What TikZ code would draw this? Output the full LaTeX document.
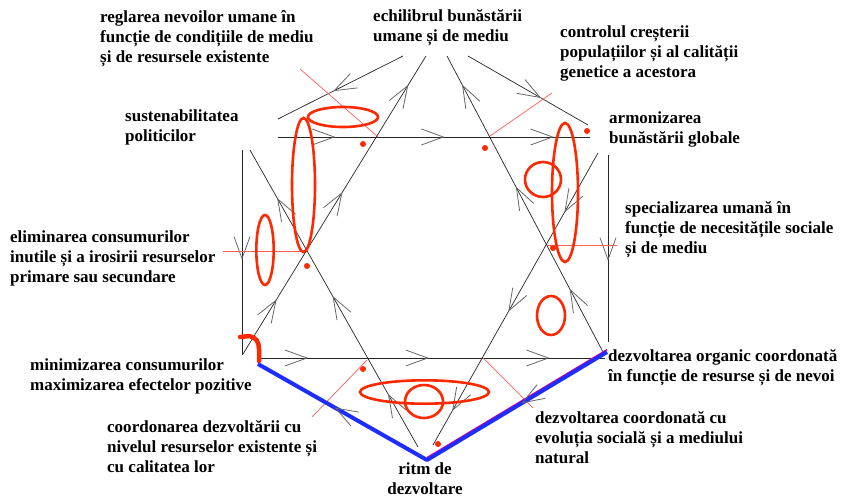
\documentclass[tikz,border=0pt]{standalone}
\usepackage{fontspec}
\setmainfont{Liberation Serif}
\usetikzlibrary{decorations.markings}

\definecolor{inkred}{RGB}{255,40,0}
\definecolor{thinred}{RGB}{255,95,95}
\definecolor{inkblue}{RGB}{30,45,255}

\begin{document}
\begin{tikzpicture}[x=1pt, y=-1pt,
    flow/.style={black!85, line width=0.7pt},
    tips/.style args={#1 step #2}{postaction={decorate, decoration={markings,
        mark=between positions #1 and 0.97 step #2 with {\draw[black!60, line width=0.8pt, line join=miter]
            (-22pt,8pt) -- (0pt,0pt) -- (-22pt,-8pt);}}}},
    lbl/.style={font=\bfseries\fontsize{17}{20}\selectfont, align=left, anchor=north west, inner sep=0pt},
    ring/.style={draw=inkred, line width=2.6pt},
    hint/.style={draw=thinred, line width=0.7pt},
    spot/.style={circle, fill=inkred, inner sep=0pt, minimum size=6pt}]
    \useasboundingbox (0,0) rectangle (845,497);
    \fill[white] (0,0) rectangle (845,497);

    % ==== POINTS ====
    \coordinate (upL) at (243,354);     \coordinate (upTopL) at (426,56);
    \coordinate (upTopR) at (447,56);   \coordinate (upR) at (603,352);
    \coordinate (dnL) at (250,150);     \coordinate (dnR) at (598,153);
    \coordinate (dnBotL) at (418,447);  \coordinate (dnBotR) at (433,445);
    \coordinate (topA) at (278,137);    \coordinate (topB) at (590,137);
    \coordinate (botA) at (260,358);    \coordinate (botB) at (605,358);
    \coordinate (leftA) at (242,150);   \coordinate (leftB) at (242,355);
    \coordinate (rightA) at (608,155);  \coordinate (rightB) at (608,342);
    \coordinate (feedL0) at (403,56);   \coordinate (feedL1) at (278,119);
    \coordinate (feedR0) at (468,56);   \coordinate (feedR1) at (588,125);
    \coordinate (bl) at (258,364);      \coordinate (bv) at (427,460);
    \coordinate (br) at (607,352);

    % ==== STAR OF FLOWS ====
    \draw[flow, tips={0.18 step 0.36}] (upL) -- (upTopL);
    \draw[flow, tips={0.21 step 0.345}] (upR) -- (upTopR);
    \draw[flow, tips={0.175 step 0.33}] (dnBotL) -- (dnL);
    \draw[flow, tips={0.2 step 0.34}] (dnR) -- (dnBotR);
    \draw[flow, tips={0.18 step 0.35}] (topA) -- (topB);
    \draw[flow, tips={0.136 step 0.35}] (botA) -- (botB);
    \draw[flow, tips={0.53 step 1}] (leftA) -- (leftB);
    \draw[flow, tips={0.56 step 1}] (rightA) -- (rightB);
    \draw[flow, tips={0.55 step 1}] (feedL0) -- (feedL1);
    \draw[flow, tips={0.6 step 1}] (feedR0) -- (feedR1);

    % ==== RED MARKS ====
    \draw[hint] (300,69) -- (378,137);
    \draw[hint] (490,136) -- (552,93);
    \draw[hint] (223,251) -- (307,251);
    \draw[hint] (547,245) -- (617,245);
    \draw[hint] (312,417) -- (367,360);
    \draw[hint] (483,358) -- (533,408);
    \draw[ring] (343,117) ellipse [x radius=35, y radius=10];
    \draw[ring] (303.5,185) ellipse [x radius=11.5, y radius=67];
    \draw[ring] (265,250) ellipse [x radius=8.7, y radius=35];
    \draw[ring] (565,192.5) ellipse [x radius=13, y radius=69.5];
    \draw[ring] (543,179.5) ellipse [x radius=18, y radius=17.5];
    \draw[ring] (551,315.5) ellipse [x radius=14, y radius=19.5];
    \draw[ring] (424.5,392) ellipse [x radius=64.5, y radius=11.7];
    \draw[ring] (424,401.5) ellipse [x radius=19, y radius=16.5];
    \foreach \p [count=\i] in {(363,144),(485,148),(587,131),(307,266),(553,248),(363,369),(438,444)}
        \node[spot] (spot\i) at \p {};
    \draw[inkred, line width=4.5pt, line cap=round, line join=round]
        (240,337) -- (249,336) .. controls (256,337) and (259,342) .. (259,349) -- (259,361);

    % ==== RHYTHM LINE ====
    \draw[magenta, line width=1.4pt] ([yshift=2.4pt]bv) -- ([yshift=2.4pt]br);
    \draw[inkblue, line width=4pt, line join=round] (bl) -- (bv) -- (br);
    \path[tips={0.54 step 1}] (bv) -- (bl);
    \path[tips={0.47 step 1}] (br) -- (bv);

    % ==== LABELS ====
    \node[lbl] (tReglare) at (100,10.5) {reglarea nevoilor umane în\\funcție de condițiile de mediu\\și de resursele existente};
    \node[lbl] (tEchilibru) at (373,9) {echilibrul bunăstării\\umane și de mediu};
    \node[lbl] (tControl) at (560,26) {controlul creșterii\\populațiilor și al calității\\genetice a acestora};
    \node[lbl] (tArmon) at (609,112) {armonizarea\\bunăstării globale};
    \node[lbl] (tSpecial) at (625,201) {specializarea umană în\\funcție de necesitățile sociale\\și de mediu};
    \node[lbl] (tSusten) at (125,110) {sustenabilitatea\\politicilor};
    \node[lbl] (tElimin) at (10,231) {eliminarea consumurilor\\inutile și a irosirii resurselor\\primare sau secundare};
    \node[lbl] (tMinim) at (30,359) {minimizarea consumurilor\\maximizarea efectelor pozitive};
    \node[lbl] (tCoord) at (107,420) {coordonarea dezvoltării cu\\nivelul resurselor existente și\\cu calitatea lor};
    \node[lbl, align=center, anchor=north] (tRitm) at (425,462) {ritm de\\dezvoltare};
    \node[lbl] (tOrganic) at (608,349) {dezvoltarea organic coordonată\\în funcție de resurse și de nevoi};
    \node[lbl] (tEvol) at (535,411) {dezvoltarea coordonată cu\\evoluția socială și a mediului\\natural};
\end{tikzpicture}
\end{document}
